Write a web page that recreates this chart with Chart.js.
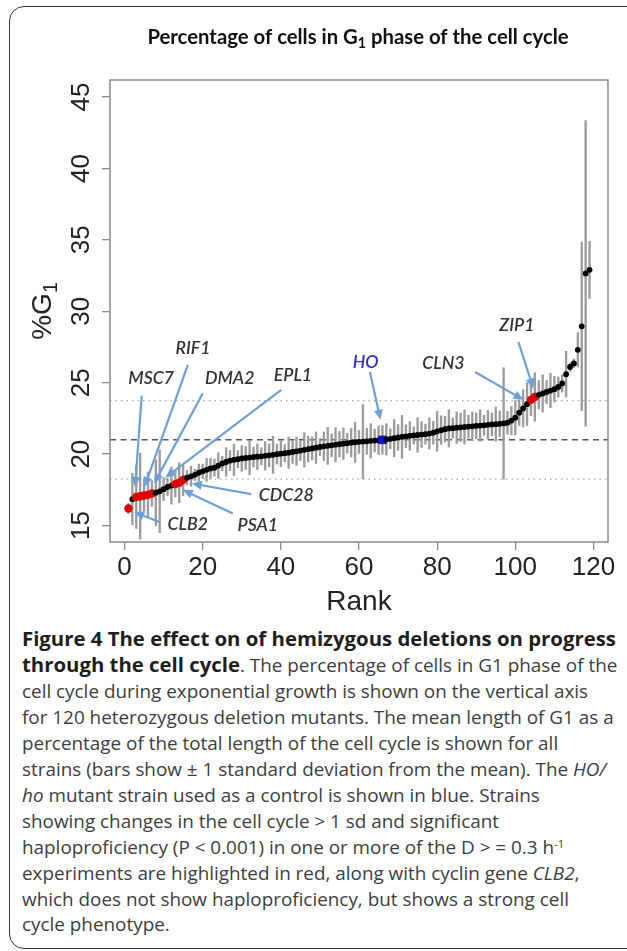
<!DOCTYPE html>
<html>
<head>
<meta charset="utf-8">
<script src="https://cdn.jsdelivr.net/npm/chart.js@4.4.0/dist/chart.umd.min.js"></script>
<style>
    html, body { margin: 0; padding: 0; background: #fff; }
    body { width: 627px; height: 951px; overflow: hidden; position: relative; }
    .frame {
        position: absolute; left: 9px; top: 6px; width: 680px; height: 941px;
        border: 1.6px solid #333; border-radius: 15px;
    }
    #chartWrap { position: absolute; left: 0; top: 0; width: 627px; height: 620px; }
    .caption {
        position: absolute; left: 22px; top: 0; width: 600px;
        font-family: 'Open Sans', sans-serif; font-size: 18px; color: #3d3d3d;
    }
    .caption .line { position: absolute; left: 0; white-space: nowrap; line-height: 26px; }
    .caption b { color: #1e1e1e; font-weight: 700; }
    .caption sup { font-size: 0.6em; vertical-align: 0.55em; line-height: 0; }
</style>
</head>
<body>
<div class="frame"></div>
<div id="chartWrap"><canvas id="g1Chart" width="627" height="620"></canvas></div>

<div class="caption" id="caption">
    <div class="line"><b>Figure 4 The effect on of hemizygous deletions on progress</b></div>
    <div class="line"><b>through the cell cycle</b>. The percentage of cells in G1 phase of the</div>
    <div class="line">cell cycle during exponential growth is shown on the vertical axis</div>
    <div class="line" id="fitLine">for 120 heterozygous deletion mutants. The mean length of G1 as a</div>
    <div class="line">percentage of the total length of the cell cycle is shown for all</div>
    <div class="line">strains (bars show &plusmn; 1 standard deviation from the mean). The <i>HO/</i></div>
    <div class="line"><i>ho</i> mutant strain used as a control is shown in blue. Strains</div>
    <div class="line">showing changes in the cell cycle &gt; 1 sd and significant</div>
    <div class="line">haploproficiency (P &lt; 0.001) in one or more of the D &gt; = 0.3 h<sup>-1</sup></div>
    <div class="line">experiments are highlighted in red, along with cyclin gene <i>CLB2</i>,</div>
    <div class="line">which does not show haploproficiency, but shows a strong cell</div>
    <div class="line">cycle phenotype.</div>
</div>

<script>
// Strains ranked by %G1
const ranks = [
    1, 2, 3, 4, 5, 6, 7, 8, 9, 10, 11, 12, 13, 14, 15, 16, 17, 18, 19, 20,
    21, 22, 23, 24, 25, 26, 27, 28, 29, 30, 31, 32, 33, 34, 35, 36, 37, 38, 39, 40,
    41, 42, 43, 44, 45, 46, 47, 48, 49, 50, 51, 52, 53, 54, 55, 56, 57, 58, 59, 60,
    61, 62, 63, 64, 65, 66, 67, 68, 69, 70, 71, 72, 73, 74, 75, 76, 77, 78, 79, 80,
    81, 82, 83, 84, 85, 86, 87, 88, 89, 90, 91, 92, 93, 94, 95, 96, 97, 98, 99, 100,
    101, 102, 103, 104, 105, 106, 107, 108, 109, 110, 111, 112, 113, 114, 115, 116, 117, 118, 119
];

const g1Mean = [
    16.2, 16.85, 17.0, 17.05, 17.1, 17.15, 17.25, 17.3, 17.4, 17.55,
    17.7, 17.8, 17.9, 18.0, 18.2, 18.35, 18.45, 18.55, 18.7, 18.8,
    18.9, 19.0, 19.05, 19.2, 19.35, 19.45, 19.55, 19.6, 19.65, 19.7,
    19.73, 19.76, 19.8, 19.82, 19.85, 19.88, 19.92, 19.95, 20.0, 20.03,
    20.07, 20.1, 20.15, 20.2, 20.25, 20.3, 20.35, 20.4, 20.45, 20.5,
    20.55, 20.58, 20.62, 20.66, 20.7, 20.73, 20.77, 20.8, 20.83, 20.86,
    20.88, 20.9, 20.93, 20.95, 20.97, 21.0, 21.03, 21.07, 21.12, 21.17,
    21.21, 21.25, 21.28, 21.31, 21.34, 21.37, 21.4, 21.44, 21.5, 21.6,
    21.68, 21.75, 21.8, 21.82, 21.85, 21.88, 21.9, 21.93, 21.95, 21.98,
    22.0, 22.02, 22.05, 22.08, 22.1, 22.12, 22.15, 22.2, 22.35, 22.55,
    22.9, 23.2, 23.5, 23.8, 24.0, 24.15, 24.25, 24.35, 24.45, 24.55,
    24.7, 24.95, 25.6, 26.1, 26.35, 27.3, 28.95, 32.65, 32.9
];

// one standard deviation per strain
const g1Sd = [
    0.35, 1.8, 2.2, 3.0, 1.1, 1.6, 0.9, 2.3, 2.9, 0.8,
    0.6, 1.3, 0.9, 1.4, 1.1, 0.5, 0.7, 0.4, 0.6, 0.5,
    0.8, 0.7, 0.6, 0.9, 0.5, 1.0, 0.7, 1.1, 0.6, 0.9,
    0.8, 1.2, 0.7, 0.9, 0.6, 1.0, 0.8, 1.3, 0.7, 0.9,
    0.6, 1.1, 0.8, 1.0, 0.7, 1.2, 0.9, 0.8, 1.1, 0.6,
    1.0, 1.3, 0.8, 1.2, 0.9, 1.1, 0.7, 1.0, 1.4, 0.8,
    2.6, 0.9, 1.2, 0.8, 1.0, 1.0, 1.1, 0.7, 1.3, 0.9,
    1.5, 0.8, 1.0, 0.6, 1.2, 0.9, 0.7, 1.1, 0.8, 1.4,
    1.0, 0.9, 1.3, 0.7, 1.1, 1.0, 1.2, 0.8, 1.0, 0.9,
    1.1, 0.7, 1.0, 0.8, 1.2, 0.9, 3.9, 0.8, 1.0, 1.2,
    0.9, 1.3, 1.5, 1.1, 1.7, 1.0, 1.3, 0.8, 1.2, 0.9,
    0.7, 0.6, 1.6, 0.3, 0.3, 1.2, 5.9, 10.7, 2.0
];

const redRanks = [1, 3, 4, 5, 6, 7, 13, 14, 15, 104, 105];
const controlRank = 66;

const xTickValues = [0, 20, 40, 60, 80, 100, 120];
const yTickValues = [15, 20, 25, 30, 35, 40, 45];
const meanLevel = 21.0;
const sdLevels = [18.25, 23.75];

// gene call-outs: label centre, arrow start, arrow tip (rank, %G1)
const geneNames = ['MSC7', 'RIF1', 'DMA2', 'EPL1', 'CDC28', 'PSA1', 'CLB2', 'HO', 'CLN3', 'ZIP1'];
const labelAt = [[6.8, 25.3], [17.5, 27.4], [26.9, 25.3], [43.1, 25.5], [41.4, 17.1],
                 [34.1, 15.0], [16.2, 15.1], [61.7, 26.45], [81.6, 26.35], [100.4, 29.05]];
const arrowFrom = [[4.4, 24.1], [16.2, 26.25], [20.0, 24.25], [40.1, 24.5], [32.4, 17.2],
                   [27.7, 15.85], [8.9, 15.25], [62.8, 25.75], [89.7, 25.75], [100.8, 27.85]];
const arrowTo = [[2.7, 17.7], [5.1, 17.7], [7.6, 17.95], [10.4, 18.35], [17.2, 17.95],
                 [14.9, 17.5], [2.5, 15.95], [65.5, 22.4], [102.1, 23.8], [104.6, 24.6]];

const AXIS_FONT = '"Liberation Sans", Arial, Helvetica, sans-serif';
const LABEL_FONT = 'Lato, "Open Sans", sans-serif';

function fitSize(ctx, style, family, text, target) {
    ctx.font = style + ' 20px ' + family;
    return 20 * target / ctx.measureText(text).width;
}

// draws text with a trailing subscript "1", centred on 0
function drawSubscripted(ctx, style, size, family, main, sub, rest) {
    ctx.font = style + ' ' + size + 'px ' + family;
    const w1 = ctx.measureText(main).width;
    const w3 = rest ? ctx.measureText(rest).width : 0;
    ctx.font = style + ' ' + (size * 0.7) + 'px ' + family;
    const w2 = ctx.measureText(sub).width;
    let x0 = -(w1 + w2 + w3) / 2;
    ctx.textAlign = 'left';
    ctx.font = style + ' ' + size + 'px ' + family;
    ctx.fillText(main, x0, 0);
    ctx.font = style + ' ' + (size * 0.7) + 'px ' + family;
    ctx.fillText(sub, x0 + w1, size * 0.22);
    if (rest) {
        ctx.font = style + ' ' + size + 'px ' + family;
        ctx.fillText(rest, x0 + w1 + w2, 0);
    }
}

const refLines = {
    id: 'refLines',
    beforeDatasetsDraw(chart) {
        const { ctx, chartArea, scales: { y } } = chart;
        ctx.save();
        ctx.lineWidth = 1.3;
        ctx.strokeStyle = '#a8a8a8';
        ctx.setLineDash([1.5, 4]);
        sdLevels.forEach(v => {
            const py = y.getPixelForValue(v);
            ctx.beginPath();
            ctx.moveTo(chartArea.left, py);
            ctx.lineTo(chartArea.right, py);
            ctx.stroke();
        });
        ctx.strokeStyle = '#555';
        ctx.lineWidth = 1.5;
        ctx.setLineDash([6, 4.5]);
        const pm = y.getPixelForValue(meanLevel);
        ctx.beginPath();
        ctx.moveTo(chartArea.left, pm);
        ctx.lineTo(chartArea.right, pm);
        ctx.stroke();
        ctx.restore();
    }
};

const callouts = {
    id: 'callouts',
    afterDatasetsDraw(chart) {
        const { ctx, scales: { x, y } } = chart;
        ctx.save();
        const labelSize = fitSize(ctx, 'italic 600', LABEL_FONT, 'CDC28', 55);
        geneNames.forEach((name, i) => {
            const x1 = x.getPixelForValue(arrowFrom[i][0]), y1 = y.getPixelForValue(arrowFrom[i][1]);
            const x2 = x.getPixelForValue(arrowTo[i][0]), y2 = y.getPixelForValue(arrowTo[i][1]);
            const ang = Math.atan2(y2 - y1, x2 - x1);
            ctx.strokeStyle = '#6f9fd4';
            ctx.fillStyle = '#6f9fd4';
            ctx.lineWidth = 2.2;
            ctx.beginPath();
            ctx.moveTo(x1, y1);
            ctx.lineTo(x2 - 6 * Math.cos(ang), y2 - 6 * Math.sin(ang));
            ctx.stroke();
            ctx.beginPath();
            ctx.moveTo(x2, y2);
            ctx.lineTo(x2 - 10 * Math.cos(ang) + 4.5 * Math.sin(ang), y2 - 10 * Math.sin(ang) - 4.5 * Math.cos(ang));
            ctx.lineTo(x2 - 10 * Math.cos(ang) - 4.5 * Math.sin(ang), y2 - 10 * Math.sin(ang) + 4.5 * Math.cos(ang));
            ctx.closePath();
            ctx.fill();

            ctx.font = 'italic 600 ' + labelSize + 'px ' + LABEL_FONT;
            ctx.fillStyle = name === 'HO' ? '#2f2fc0' : '#333';
            ctx.textAlign = 'center';
            ctx.textBaseline = 'middle';
            ctx.fillText(name, x.getPixelForValue(labelAt[i][0]), y.getPixelForValue(labelAt[i][1]));
        });
        ctx.restore();
    }
};

const axisText = {
    id: 'axisText',
    afterDraw(chart) {
        const { ctx, chartArea, scales: { x, y } } = chart;
        ctx.save();
        ctx.strokeStyle = '#8a8a8a';
        ctx.lineWidth = 1.5;
        ctx.strokeRect(chartArea.left, chartArea.top, chartArea.right - chartArea.left, chartArea.bottom - chartArea.top);

        ctx.fillStyle = '#222';
        ctx.textBaseline = 'alphabetic';
        ctx.textAlign = 'center';
        ctx.font = '26px ' + AXIS_FONT;
        x.ticks.forEach(t => ctx.fillText(String(t.value), x.getPixelForValue(t.value), 575));
        y.ticks.forEach(t => {
            ctx.save();
            ctx.translate(89, y.getPixelForValue(t.value));
            ctx.rotate(-Math.PI / 2);
            ctx.fillText(String(t.value), 0, 0);
            ctx.restore();
        });

        ctx.font = '28px ' + AXIS_FONT;
        ctx.fillText('Rank', (chartArea.left + chartArea.right) / 2, 610);

        ctx.save();
        ctx.translate(51, (chartArea.top + chartArea.bottom) / 2);
        ctx.rotate(-Math.PI / 2);
        drawSubscripted(ctx, 'normal', 28, AXIS_FONT, '%G', '1');
        ctx.restore();

        // title
        ctx.fillStyle = '#111';
        const tSize = fitSize(ctx, 'bold', LABEL_FONT, 'Percentage of cells in G1 phase of the cell cycle', 425);
        ctx.save();
        ctx.translate(358, 44);
        drawSubscripted(ctx, 'bold', tSize, LABEL_FONT, 'Percentage of cells in G', '1', ' phase of the cell cycle');
        ctx.restore();
        ctx.restore();
    }
};

const pointColors = ranks.map(r => r === controlRank ? '#1010d8' : (redRanks.includes(r) ? '#dd0000' : '#000'));
const pointSizes = ranks.map(r => r === controlRank ? 6 : (redRanks.includes(r) ? 4.2 : 2.9));
const pointShapes = ranks.map(r => r === controlRank ? 'rect' : 'circle');

const ctx = document.getElementById('g1Chart').getContext('2d');
new Chart(ctx, {
    type: 'scatter',
    data: {
        datasets: [
            {
                type: 'scatter',
                label: '%G1',
                data: ranks.map((r, i) => ({ x: r, y: g1Mean[i] })),
                pointBackgroundColor: pointColors,
                pointRadius: pointSizes,
                pointStyle: pointShapes,
                pointBorderWidth: 0,
                order: 0
            },
            {
                type: 'bar',
                label: '± 1 sd',
                data: ranks.map((r, i) => ({ x: r, y: [g1Mean[i] - g1Sd[i], g1Mean[i] + g1Sd[i]] })),
                backgroundColor: '#9c9c9c',
                borderWidth: 0,
                barThickness: 1.7,
                grouped: false,
                order: 1
            }
        ]
    },
    options: {
        responsive: false,
        animation: false,
        events: [],
        layout: { padding: { left: 0, top: 80, right: 19, bottom: 0 }, autoPadding: false },
        plugins: { legend: { display: false }, tooltip: { enabled: false } },
        scales: {
            x: {
                type: 'linear',
                min: -3.72,
                max: 123.72,
                offset: false,
                afterBuildTicks: s => { s.ticks = xTickValues.map(v => ({ value: v })); },
                afterFit: s => { s.height = 78; },
                ticks: { display: false },
                grid: { display: true, offset: false, drawOnChartArea: false, drawTicks: true, tickLength: 8, color: '#8a8a8a', lineWidth: 1.3 },
                border: { display: false }
            },
            y: {
                type: 'linear',
                min: 13.85,
                max: 46.19,
                beginAtZero: false,
                afterBuildTicks: s => { s.ticks = yTickValues.map(v => ({ value: v })); },
                afterFit: s => { s.width = 110; },
                ticks: { display: false },
                grid: { display: true, drawOnChartArea: false, drawTicks: true, tickLength: 8, color: '#8a8a8a', lineWidth: 1.3 },
                border: { display: false }
            }
        }
    },
    plugins: [refLines, callouts, axisText]
});

// Caption layout: fit the font to the printed line width, then set baselines
const caption = document.getElementById('caption');
const lines = caption.querySelectorAll('.line');
const fitLine = document.getElementById('fitLine');
let w = fitLine.getBoundingClientRect().width;
const fs = 18 * 592 / w;
caption.style.fontSize = fs + 'px';
const boldHead = lines[0].querySelector('b');
w = lines[0].getBoundingClientRect().width;
const boldScale = 594 / w;
caption.querySelectorAll('b').forEach(b => { b.style.fontSize = boldScale + 'em'; });

const firstBaseline = 646;
const lineStep = 25.95;
lines.forEach((line, i) => {
    const probe = document.createElement('span');
    probe.style.cssText = 'display:inline-block;width:0;height:0;vertical-align:baseline';
    line.appendChild(probe);
    line.style.top = '0px';
    const offset = probe.getBoundingClientRect().top - line.getBoundingClientRect().top;
    line.style.top = (firstBaseline + i * lineStep - offset) + 'px';
});
</script>
</body>
</html>
